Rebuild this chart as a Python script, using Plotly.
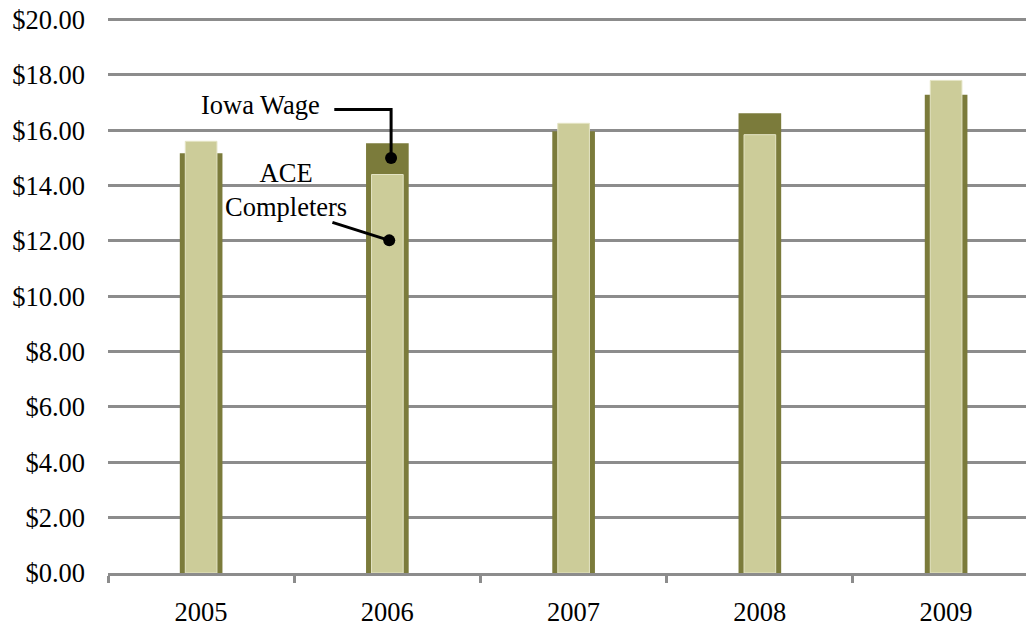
import plotly.graph_objects as go

years = ["2005", "2006", "2007", "2008", "2009"]
iowa_wage = [15.17, 15.53, 15.96, 16.61, 17.28]
ace_completers = [15.60, 14.40, 16.25, 15.84, 17.80]
y_ticks = [0, 2, 4, 6, 8, 10, 12, 14, 16, 18, 20]
y_tick_labels = ["$%.2f" % v for v in y_ticks]

DARK = "#7b7b3b"
LIGHT = "#cccc99"
GRID = "#8c8c8c"
FONT = "Liberation Serif, Times New Roman, serif"

xpos = list(range(len(years)))
boundaries = [i - 0.5 for i in range(len(years) + 1)]

fig = go.Figure()
fig.add_trace(go.Bar(x=xpos, y=iowa_wage, name="Iowa Wage", width=0.229,
                     marker=dict(color=DARK, line=dict(width=0))))
fig.add_trace(go.Bar(x=xpos, y=ace_completers, name="ACE Completers", width=0.17,
                     marker=dict(color=LIGHT, line=dict(color="#e4e4c4", width=1))))

# callout leader lines (positioned relative to the 2006 bar)
fig.add_trace(go.Scatter(x=[0.715, 1.02, 1.02], y=[16.75, 16.75, 15.0], mode="lines",
                         line=dict(color="black", width=3), showlegend=False, hoverinfo="skip"))
fig.add_trace(go.Scatter(x=[0.705, 1.01], y=[12.67, 12.02], mode="lines",
                         line=dict(color="black", width=3), showlegend=False, hoverinfo="skip"))
fig.add_trace(go.Scatter(x=[1.02, 1.01], y=[15.0, 12.02], mode="markers",
                         marker=dict(color="black", size=12), showlegend=False, hoverinfo="skip"))

fig.add_annotation(x=0.65, y=16.9, text="Iowa Wage", showarrow=False, xanchor="right",
                   yanchor="middle", font=dict(family=FONT, size=26.5, color="black"))
fig.add_annotation(x=0.458, y=13.83, text="ACE<br>Completers", showarrow=False, xanchor="center",
                   yanchor="middle", align="center", font=dict(family=FONT, size=26.5, color="black"))

fig.update_layout(
    width=1026, height=626,
    margin=dict(l=108, r=0, t=14, b=53),
    barmode="overlay",
    showlegend=False,
    plot_bgcolor="white", paper_bgcolor="white",
    font=dict(family=FONT, size=26.5, color="black"),
    xaxis=dict(range=[-0.5, 4.429], showgrid=False, automargin=False,
               showline=True, linecolor=GRID, linewidth=3,
               tickvals=xpos, ticktext=years, ticks="", ticklabelstandoff=13,
               ticklabeloverflow="allow",
               minor=dict(tickvals=boundaries, ticks="outside", ticklen=7, tickwidth=3,
                          tickcolor=GRID, showgrid=False),
               tickfont=dict(family=FONT, size=26.5), zeroline=False),
    yaxis=dict(range=[0, 20.2], tickvals=y_ticks, ticktext=y_tick_labels, automargin=False,
               showgrid=True, gridcolor=GRID, gridwidth=3, zeroline=False,
               showline=False, ticks="", ticklabelstandoff=22,
               ticklabeloverflow="allow",
               tickfont=dict(family=FONT, size=26.5)),
)
fig.write_html("out.html", config={"displayModeBar": False},
               post_script="document.body.style.margin='0';document.body.style.overflow='hidden';")
